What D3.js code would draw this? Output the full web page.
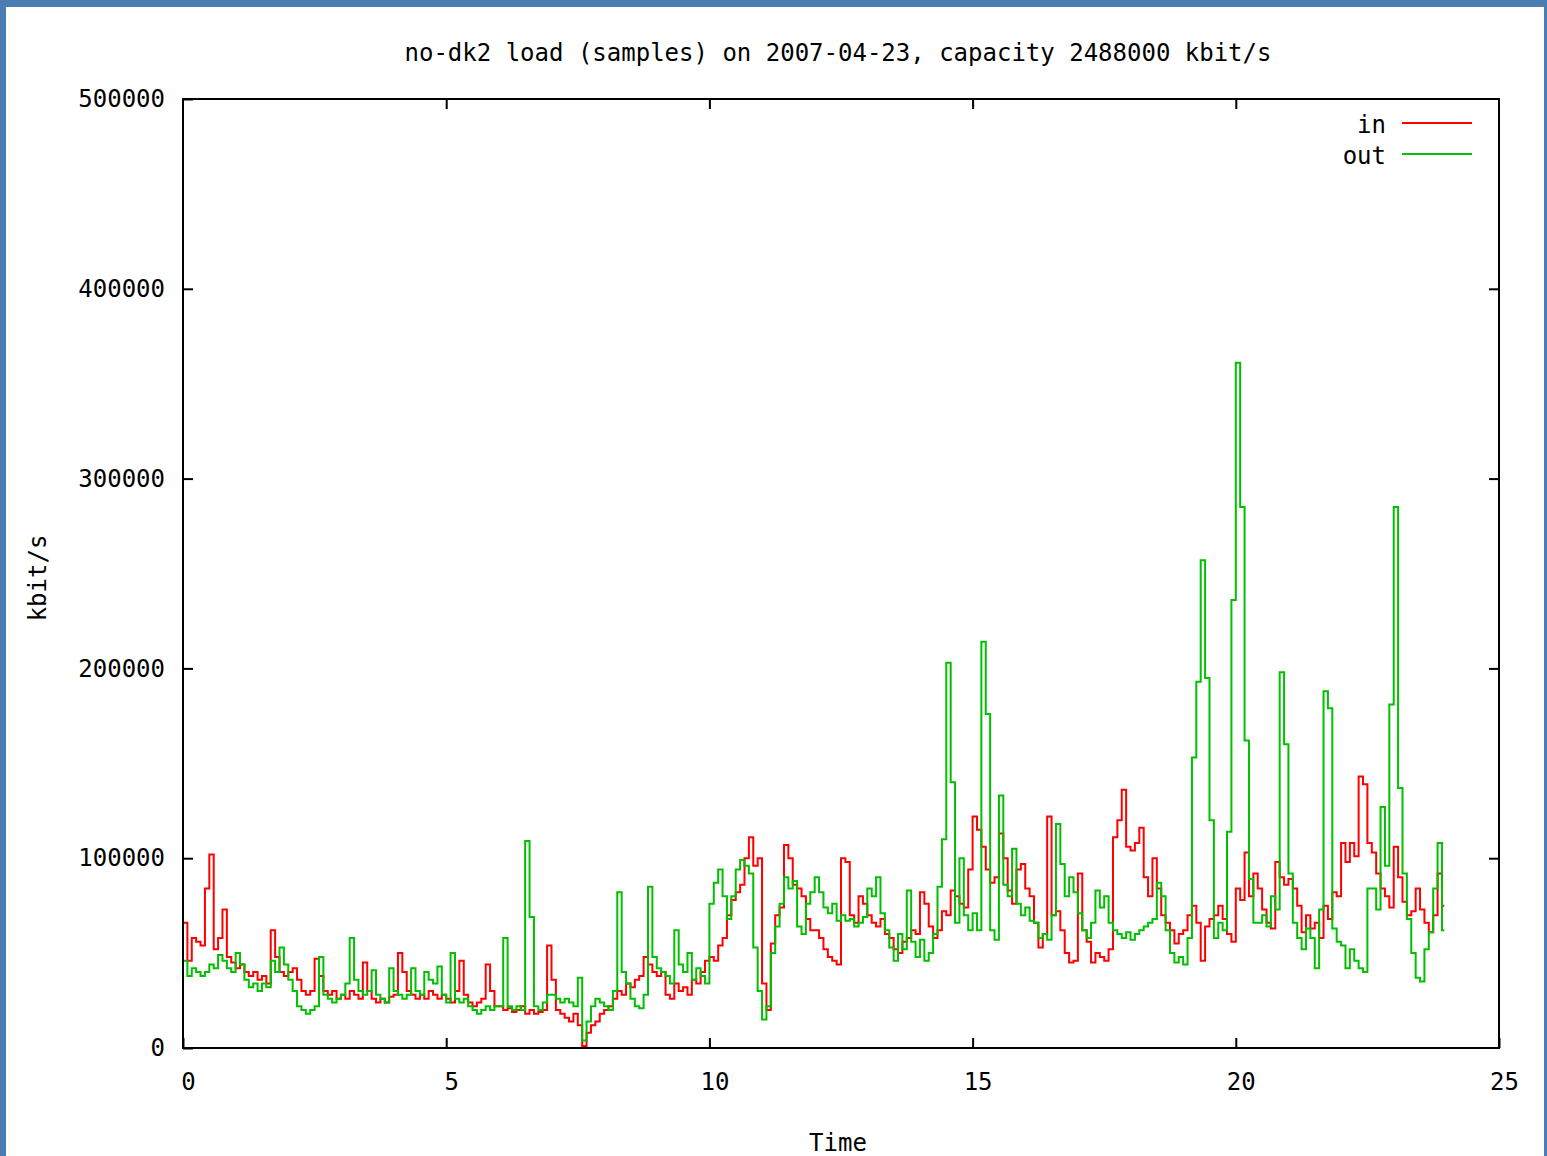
<!DOCTYPE html>
<html>
<head>
<meta charset="utf-8">
<script src="https://cdn.jsdelivr.net/npm/d3@7"></script>
<style>
  body { margin: 0; background: #4a7db1; }
  text { font-family: "DejaVu Sans Mono", "Liberation Mono", monospace; font-size: 24px; fill: #000; }
</style>
</head>
<body>
<div id="chart"></div>
<script>
// Load samples, one every 5 minutes, in 1000 kbit/s (one row per hour)
let sampleMinutes = 5;
let lastSampleEnd = 23.96;

let inLoad = [
  66, 46, 58, 56, 54, 84, 102, 52, 58, 73, 48, 45,
  42, 44, 40, 38, 40, 36, 38, 34, 62, 48, 40, 38,
  40, 42, 36, 30, 28, 30, 47, 38, 30, 28, 30, 26,
  28, 26, 30, 28, 26, 45, 30, 26, 24, 26, 24, 27,
  28, 50, 40, 30, 28, 26, 28, 26, 30, 28, 26, 28,
  26, 24, 30, 46, 28, 24, 22, 24, 26, 44, 30, 22,
  22, 20, 21, 19, 20, 22, 18, 20, 18, 19, 20, 54,
  36, 20, 18, 16, 14, 18, 12, 1, 8, 12, 14, 18,
  20, 22, 26, 30, 28, 34, 32, 36, 38, 48, 44, 40,
  38, 40, 28, 26, 34, 30, 32, 28, 36, 34, 40, 46,
  48, 46, 54, 58, 70, 78, 82, 86, 100, 111, 96, 100,
  34, 20, 55, 70, 74, 107, 100, 86, 84, 80, 68, 62,
  62, 58, 52, 48, 46, 44, 100, 98, 70, 66, 80, 76,
  70, 66, 64, 68, 60, 58, 52, 50, 56, 58, 62, 60,
  82, 76, 64, 58, 62, 72, 70, 83, 80, 76, 74, 94,
  122, 115, 106, 94, 87, 90, 113, 100, 83, 76, 94, 97,
  84, 80, 66, 53, 60, 122, 70, 72, 62, 50, 45, 46,
  92, 62, 56, 45, 50, 48, 46, 52, 111, 120, 136, 106,
  104, 108, 116, 90, 80, 100, 84, 70, 66, 62, 55, 60,
  62, 70, 75, 66, 46, 64, 68, 70, 75, 68, 60, 56,
  84, 78, 103, 80, 92, 84, 73, 66, 63, 98, 90, 86,
  89, 84, 75, 61, 70, 63, 66, 58, 75, 68, 82, 80,
  108, 98, 108, 101, 143, 139, 108, 103, 92, 84, 80, 74,
  106, 90, 77, 70, 72, 84, 73, 66, 61, 70, 92, 75
];

let outLoad = [
  46, 38, 42, 40, 38, 40, 44, 42, 49, 46, 42, 40,
  50, 44, 36, 32, 34, 30, 34, 32, 46, 40, 53, 44,
  36, 30, 22, 20, 18, 20, 22, 48, 28, 26, 24, 26,
  28, 34, 58, 36, 30, 28, 30, 41, 28, 26, 24, 42,
  30, 28, 26, 28, 42, 30, 28, 40, 36, 34, 43, 28,
  24, 50, 26, 24, 26, 22, 20, 18, 20, 22, 20, 22,
  22, 58, 22, 20, 22, 20, 109, 69, 22, 20, 24, 28,
  28, 26, 24, 26, 24, 22, 37, 4, 14, 22, 26, 24,
  22, 20, 30, 82, 40, 34, 26, 22, 21, 28, 85, 48,
  42, 40, 38, 34, 62, 44, 40, 50, 36, 42, 38, 34,
  76, 87, 94, 80, 68, 80, 94, 99, 96, 92, 53, 30,
  15, 22, 50, 64, 76, 90, 84, 88, 64, 60, 76, 82,
  90, 82, 74, 71, 76, 67, 70, 67, 68, 64, 66, 69,
  84, 80, 90, 71, 62, 53, 46, 60, 52, 83, 56, 48,
  57, 46, 50, 60, 85, 110, 203, 140, 66, 100, 70, 62,
  71, 62, 214, 176, 62, 57, 133, 86, 80, 105, 76, 70,
  74, 67, 66, 58, 60, 57, 70, 118, 97, 80, 90, 82,
  71, 62, 58, 66, 83, 74, 80, 66, 62, 60, 58, 61,
  57, 60, 62, 64, 66, 68, 87, 80, 62, 50, 45, 48,
  44, 58, 153, 193, 257, 195, 120, 58, 66, 62, 114, 236,
  361, 285, 162, 89, 66, 66, 70, 64, 80, 73, 198, 160,
  92, 66, 58, 52, 63, 58, 42, 73, 188, 179, 63, 56,
  54, 42, 52, 46, 42, 40, 84, 84, 73, 127, 96, 181,
  285, 137, 92, 68, 50, 37, 35, 52, 61, 84, 108, 62
];

let seriesNames = ['in', 'out'];
let seriesColors = ['#ff0000', '#00c000'];
let xTicks = [0, 5, 10, 15, 20, 25];
let yTicks = [0, 100000, 200000, 300000, 400000, 500000];

// Set up SVG
let svgWidth = 1547;
let svgHeight = 1156;

let margin = {
  top: 99,
  right: 48,
  bottom: 108,
  left: 183
};

let width = svgWidth - margin.left - margin.right;
let height = svgHeight - margin.top - margin.bottom;

let svg = d3.select('#chart')
  .append('svg')
  .attr('width', svgWidth)
  .attr('height', svgHeight)
  .style('display', 'block');

// blue frame round the white page
svg.append('rect')
  .attr('width', svgWidth)
  .attr('height', svgHeight)
  .attr('fill', '#4a7db1');

svg.append('rect')
  .attr('x', 6)
  .attr('y', 7)
  .attr('width', svgWidth - 9)
  .attr('height', svgHeight - 7)
  .attr('fill', '#fff');

let chartGroup = svg.append('g')
  .attr('transform', `translate(${margin.left}, ${margin.top})`);

// scales
let xScale = d3.scaleLinear().domain([0, 25]).range([0, width]);
let yScale = d3.scaleLinear().domain([0, 500000]).range([height, 0]);

// axes, ticks pointing inward and mirrored
let bottomAxis = d3.axisBottom(xScale).tickValues(xTicks).tickSize(-10).tickPadding(25);
let leftAxis = d3.axisLeft(yScale).tickValues(yTicks).tickSize(-10).tickPadding(18).tickFormat(d3.format('d'));
let topAxis = d3.axisTop(xScale).tickValues(xTicks.slice(1, -1)).tickSize(-10).tickFormat('');
let rightAxis = d3.axisRight(yScale).tickValues(yTicks.slice(1, -1)).tickSize(-10).tickFormat('');

let xAxis = chartGroup.append('g')
  .attr('transform', `translate(0, ${height})`)
  .call(bottomAxis);
xAxis.selectAll('text').attr('dx', 5);

let yAxis = chartGroup.append('g').call(leftAxis);
chartGroup.append('g').call(topAxis);
chartGroup.append('g').attr('transform', `translate(${width}, 0)`).call(rightAxis);

chartGroup.selectAll('.domain').remove();
chartGroup.selectAll('.tick line').attr('stroke', '#000').attr('stroke-width', 2);
chartGroup.selectAll('.tick text')
  .style('font-family', '"DejaVu Sans Mono", "Liberation Mono", monospace')
  .style('font-size', '24px')
  .attr('fill', '#000');

// data lines, drawn as steps
let line = d3.line()
  .x(d => xScale(d.t))
  .y(d => yScale(d.v))
  .curve(d3.curveStepAfter);

function toPoints(values) {
  let pts = values.map((v, i) => ({t: i * sampleMinutes / 60, v: v * 1000}));
  pts.push({t: lastSampleEnd, v: values[values.length - 1] * 1000});
  return pts;
}

[inLoad, outLoad].forEach(function(values, i) {
  chartGroup.append('path')
    .datum(toPoints(values))
    .attr('fill', 'none')
    .attr('stroke', seriesColors[i])
    .attr('stroke-width', 2)
    .attr('d', line);
});

// plot border
chartGroup.append('rect')
  .attr('width', width)
  .attr('height', height)
  .attr('fill', 'none')
  .attr('stroke', '#000')
  .attr('stroke-width', 2);

// legend
let legend = chartGroup.append('g')
  .attr('transform', `translate(${width - 113}, 26)`);

seriesNames.forEach(function(name, i) {
  legend.append('text')
    .attr('x', 0)
    .attr('y', i * 31)
    .attr('dy', '0.35em')
    .attr('text-anchor', 'end')
    .text(name);
  legend.append('line')
    .attr('x1', 16)
    .attr('x2', 86)
    .attr('y1', i * 31 - 2)
    .attr('y2', i * 31 - 2)
    .attr('stroke', seriesColors[i])
    .attr('stroke-width', 2);
});

// title and axis labels
svg.append('text')
  .attr('x', 838)
  .attr('y', 53)
  .attr('dy', '0.35em')
  .attr('text-anchor', 'middle')
  .text('no-dk2 load (samples) on 2007-04-23, capacity 2488000 kbit/s');

svg.append('text')
  .attr('x', 838)
  .attr('y', 1143)
  .attr('dy', '0.35em')
  .attr('text-anchor', 'middle')
  .text('Time');

svg.append('text')
  .attr('transform', 'translate(38, 578) rotate(-90)')
  .attr('dy', '0.35em')
  .attr('text-anchor', 'middle')
  .text('kbit/s');
</script>
</body>
</html>
